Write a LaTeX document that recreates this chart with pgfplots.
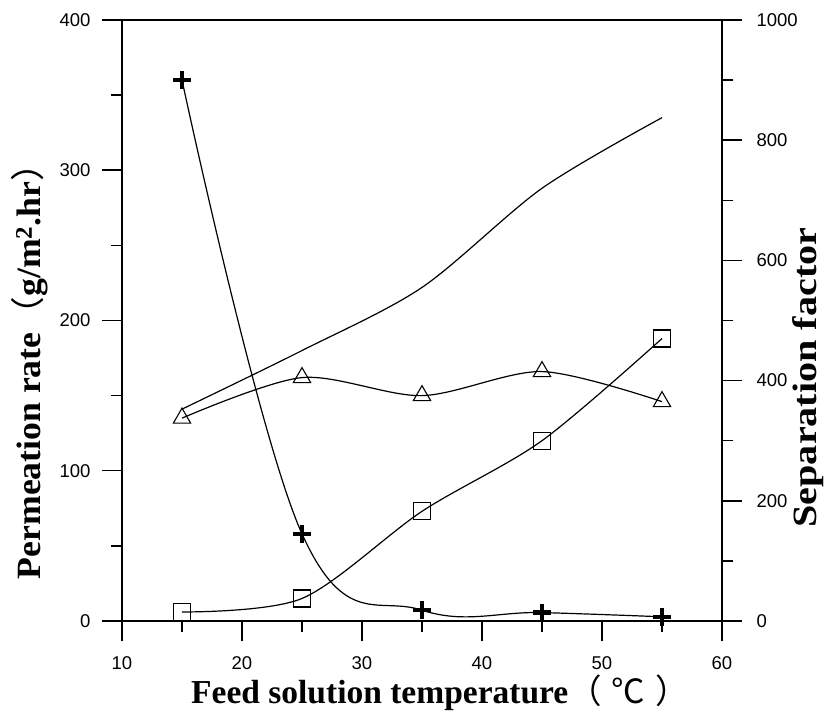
\documentclass[border=0pt]{standalone}
\usepackage{fontspec}
\setmainfont{Liberation Sans}
\newfontfamily\tnr{Liberation Serif}
\newfontfamily\cjk{Noto Sans CJK SC}
\usepackage{pgfplots}
\pgfplotsset{compat=1.18}
\begin{document}
\begin{tikzpicture}
\pgfplotsset{
  common/.style={
    at={(0pt,0pt)}, anchor=south west,
    scale only axis, width=600pt, height=601pt,
    xmin=10, xmax=60,
    major tick length=20pt, minor tick length=11pt,
    every tick/.append style={black, line width=1.5pt},
    axis line style={line width=2pt, -},
    tick label style={font=\fontsize{18.5}{18.5}\selectfont},
    /pgf/number format/assume math mode=true,
    /pgf/number format/1000 sep={},
    label style={font=\tnr\bfseries},
  }
}
\begin{axis}[common,
  axis x line*=bottom, axis y line*=left,
  tick align=outside,
  ymin=0, ymax=400,
  xtick={10,20,...,60}, ytick={0,100,...,400},
  minor x tick num=1, minor y tick num=1,
  xticklabel style={yshift=-12pt},
  yticklabel style={xshift=-8pt},
  xlabel={\fontsize{33.5}{33.5}\selectfont Feed solution temperature{\cjk\mdseries （\hspace{10pt}℃\hspace{10pt}）}},
  ylabel={\scalebox{1.05}[1]{\fontsize{34}{34}\selectfont Permeation rate{\cjk\mdseries （}g/m\textsuperscript{2}.hr{\cjk\mdseries ）}}},
  xlabel style={at={(axis description cs:0.53,-0.12)}, anchor=center},
  ylabel style={at={(axis description cs:-0.153,0.43)}, anchor=center},
]
\addplot[black, line width=1.2pt, smooth, mark=square, mark size=8.5pt, mark options={solid, line width=1.1pt}]
  coordinates {(15,6) (25,15) (35,73) (45,120) (55,188)};
\addplot[black, line width=1.2pt, smooth, mark=triangle, mark size=10pt, mark options={solid, line width=1.1pt}]
  coordinates {(15,135) (25,162) (35,150) (45,166) (55,146)};
\addplot[black, line width=1.2pt, smooth, no marks]
  coordinates {(15,141) (25,180) (35,222) (45,288) (55,335)};
\end{axis}
\begin{axis}[common,
  axis x line*=top, axis y line*=right,
  tick align=outside,
  xtick=\empty,
  ymin=0, ymax=1000,
  ytick={0,200,...,1000}, minor y tick num=1,
  yticklabel style={xshift=11pt},
  ylabel={\scalebox{1.18}[1]{\fontsize{34}{34}\selectfont Separation factor}},
  ylabel style={at={(axis description cs:1.143,0.405)}, anchor=center, rotate=0},
]
\addplot[black, line width=1.2pt, smooth, tension=0.65, mark=+, mark size=9pt, mark options={solid, line width=4.5pt}]
  coordinates {(15,900) (25,145) (35,18) (45,14) (55,7)};
\end{axis}
\pgfresetboundingbox
\useasboundingbox (-122pt,-90pt) rectangle (714pt,621pt);
\end{tikzpicture}
\end{document}
